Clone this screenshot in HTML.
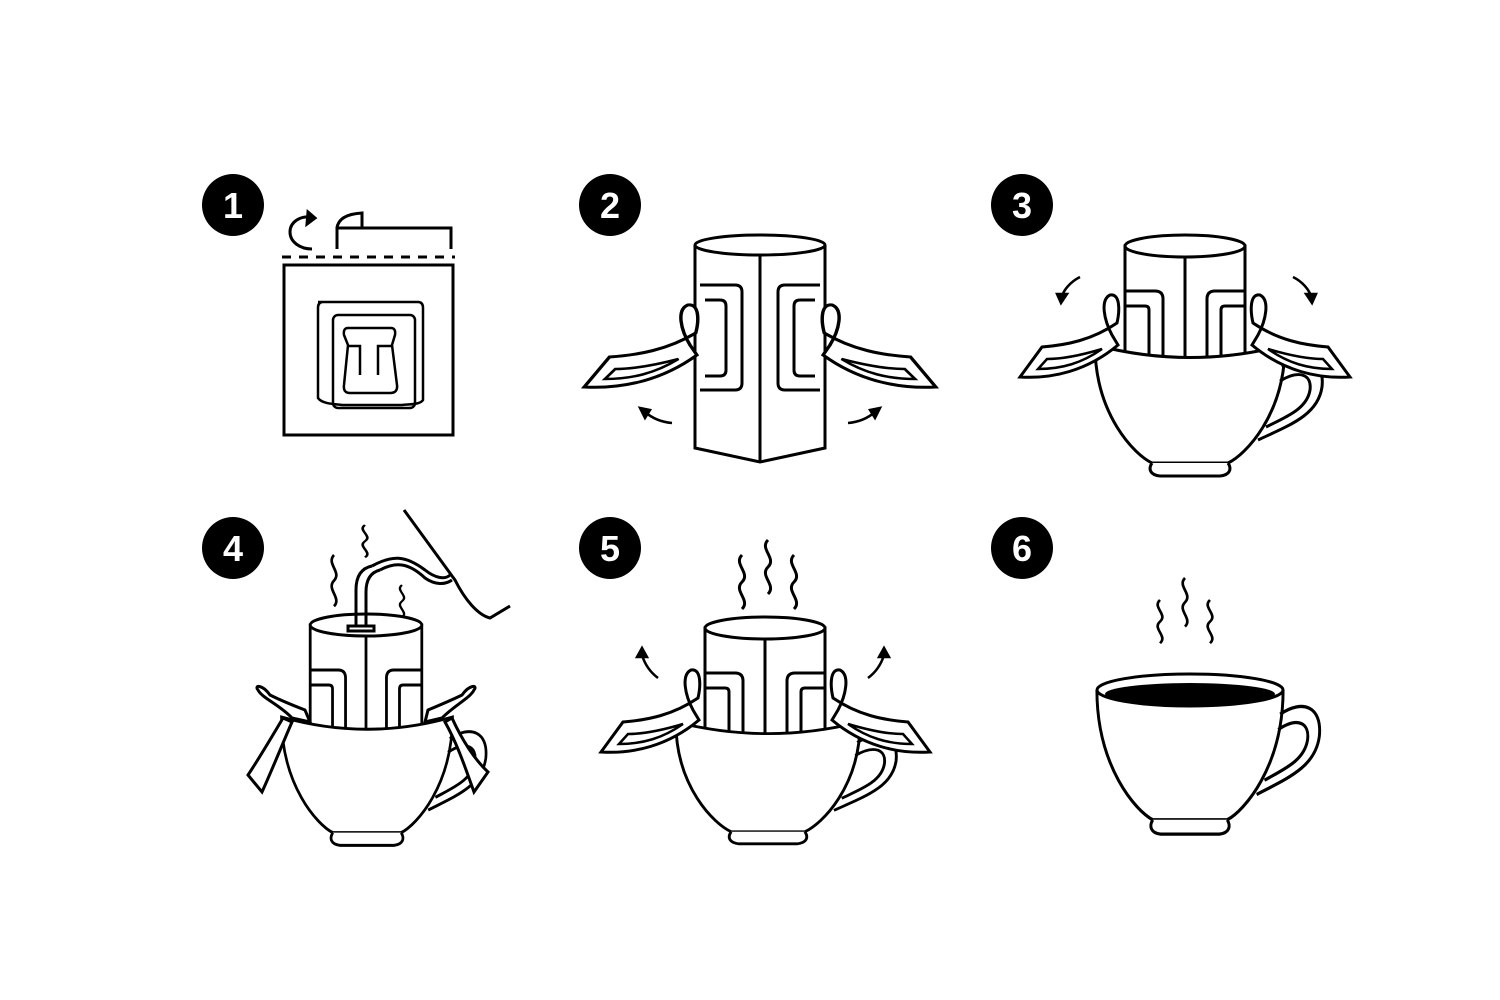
<!DOCTYPE html>
<html><head><style>html,body{margin:0;padding:0;background:#fff}svg{display:block}</style></head>
<body>
<svg width="1500" height="1000" viewBox="0 0 1500 1000" xmlns="http://www.w3.org/2000/svg">
<defs>
<g id="cup">
  <path d="M-95,0 Q0,25 95,0 C95,70 55,110 38,118 L-38,118 C-55,110 -95,70 -95,0 Z" fill="#fff" stroke="#000" stroke-width="3"/>
  <path d="M-38,118 C-42,124 -40,130 -30,131 L30,131 C40,130 42,124 38,118" fill="#fff" stroke="#000" stroke-width="3"/>
  <path d="M92,22 C115,8 135,15 132,42 C128,70 100,80 68,95" fill="none" stroke="#000" stroke-width="3"/>
  <path d="M90,36 C110,24 122,30 120,45 C117,64 96,72 76,82" fill="none" stroke="#000" stroke-width="3"/>
</g>
<g id="cup6">
  <path d="M-95,0 C-95,70 -55,110 -38,118 L38,118 C55,110 95,70 95,0" fill="#fff" stroke="#000" stroke-width="3"/>
  <path d="M-38,118 C-42,124 -40,130 -30,131 L30,131 C40,130 42,124 38,118" fill="#fff" stroke="#000" stroke-width="3"/>
  <path d="M92,22 C115,8 135,15 132,42 C128,70 100,80 68,95" fill="none" stroke="#000" stroke-width="3"/>
  <path d="M90,36 C110,24 122,30 120,45 C117,64 96,72 76,82" fill="none" stroke="#000" stroke-width="3"/>
</g>
<g id="bagbody">
  <rect x="-60" y="0" width="120" height="140" fill="#fff" stroke="#000" stroke-width="3"/>
  <ellipse cx="0" cy="0" rx="60" ry="11" fill="#fff" stroke="#000" stroke-width="3"/>
  <line x1="0" y1="11" x2="0" y2="140" stroke="#000" stroke-width="3"/>
  <path d="M-60,45 L-30,45 Q-22,45 -22,53 L-22,140" fill="none" stroke="#000" stroke-width="3"/>
  <path d="M-60,60 L-40,60 Q-36,60 -36,64 L-36,140" fill="none" stroke="#000" stroke-width="3"/>
  <path d="M60,45 L30,45 Q22,45 22,53 L22,140" fill="none" stroke="#000" stroke-width="3"/>
  <path d="M60,60 L40,60 Q36,60 36,64 L36,140" fill="none" stroke="#000" stroke-width="3"/>
</g>
<g id="earL">
  <path d="M0,0 C-8,-15 -12,-35 -2,-40 C8,-42 8,-25 5,-12 C-20,5 -45,10 -70,12 L-92,42 C-60,44 -25,36 6,10 Z" fill="#fff" stroke="#000" stroke-width="3"/>
  <path d="M-10,14 C-30,20 -50,24 -65,24 L-74,34 C-50,34 -30,28 -10,14 Z" fill="none" stroke="#000" stroke-width="2.5"/>
</g>
<path id="steam" d="M0,0 c-9,9 9,18 0,27 c-9,9 9,18 0,27" fill="none" stroke="#000" stroke-width="3"/>
</defs>

<g font-family="Liberation Sans, sans-serif" font-weight="bold" font-size="36" fill="#fff" text-anchor="middle">
<circle cx="233" cy="205" r="31" fill="#000"/><text x="233" y="218">1</text>
<circle cx="610" cy="205" r="31" fill="#000"/><text x="610" y="218">2</text>
<circle cx="1022" cy="205" r="31" fill="#000"/><text x="1022" y="218">3</text>
<circle cx="233" cy="548" r="31" fill="#000"/><text x="233" y="561">4</text>
<circle cx="610" cy="548" r="31" fill="#000"/><text x="610" y="561">5</text>
<circle cx="1022" cy="548" r="31" fill="#000"/><text x="1022" y="561">6</text>
</g>

<!-- panel 1 -->
<g fill="none" stroke="#000" stroke-width="3">
<rect x="284" y="265" width="169" height="170"/>
<line x1="282" y1="257" x2="455" y2="257" stroke-dasharray="9,8"/>
<path d="M337,249 L337,228 L451,228 L451,249"/>
<path d="M337,228 C338,220 345,214 362,213 L362,228"/>
<path d="M312,249 C300,249 290,242 290,232 C290,222 300,216 310,217"/>
<path d="M308,212 L315,218 L307,224 Z" fill="#000"/>
<path d="M318,302 L418,302 Q423,302 423,308 L423,400 C420,405 408,404 402,405 L342,405 C335,404 322,404 318,398 L318,308 Q318,302 323,302 Z" stroke-width="2.5"/>
<rect x="333" y="315" width="82" height="93" rx="5" stroke-width="2.5"/>
<path d="M348,328 L391,328 Q396,328 395,335 L392,345 L397,385 Q398,393 390,393 L350,393 Q343,393 344,385 L348,345 L344,335 Q343,328 348,328 Z" stroke-width="2.5"/>
<path d="M347,346 L360,346 L360,375 M392,346 L378,346 L378,375" stroke-width="2.5"/>
</g>

<!-- panel 2 -->
<g fill="none" stroke="#000" stroke-width="3">
<path d="M695,245 L695,448 L760,462 L825,448 L825,245" fill="#fff"/>
<ellipse cx="760" cy="245" rx="65" ry="10" fill="#fff"/>
<line x1="760" y1="255" x2="760" y2="462"/>
<path d="M700,285 L735,285 Q742,285 742,292 L742,383 Q742,390 735,390 L700,390"/>
<path d="M705,300 L720,300 Q726,300 726,306 L726,370 Q726,376 720,376 L705,376"/>
<path d="M820,285 L785,285 Q778,285 778,292 L778,383 Q778,390 785,390 L820,390"/>
<path d="M815,300 L800,300 Q794,300 794,306 L794,370 Q794,376 800,376 L815,376"/>
</g>
<use href="#earL" transform="translate(690,345) scale(1.15,1)"/>
<use href="#earL" transform="translate(830,345) scale(-1.15,1)"/>
<g fill="none" stroke="#000" stroke-width="2.5">
<path d="M672,423 C660,422 652,418 645,412"/><path d="M640,408 L650,410 L645,418 Z" fill="#000"/>
<path d="M848,423 C860,422 868,418 875,412"/><path d="M880,408 L870,410 L875,418 Z" fill="#000"/>
</g>

<!-- panel 3 -->
<use href="#bagbody" transform="translate(1185,246)"/>
<use href="#cup" transform="translate(1190,345)"/>
<use href="#earL" transform="translate(1112,335)"/>
<use href="#earL" transform="translate(1258,335) scale(-1,1)"/>
<g fill="none" stroke="#000" stroke-width="2.5">
<path d="M1080,277 C1070,282 1064,290 1062,296"/><path d="M1057,294 L1067,294 L1061,303 Z" fill="#000"/>
<path d="M1293,277 C1303,282 1309,290 1311,296"/><path d="M1316,294 L1306,294 L1312,303 Z" fill="#000"/>
</g>

<!-- panel 4 -->
<g transform="translate(366,625) scale(0.93,1)"><use href="#bagbody"/></g>
<g transform="translate(367,717) scale(0.9,0.98)"><use href="#cup"/></g>
<g fill="#fff" stroke="#000" stroke-width="3">
<path d="M292,718 C280,705 262,698 258,690 C254,685 262,684 270,695 C280,700 292,705 305,710 L310,722 Z"/>
<path d="M283,718 C270,740 258,760 248,775 L262,792 C272,770 282,745 292,722 Z"/>
<path d="M442,718 C455,705 470,698 474,690 C478,685 470,684 462,695 C452,700 440,705 428,710 L425,722 Z"/>
<path d="M452,718 C462,740 475,760 488,772 L474,792 C466,770 458,745 445,722 Z"/>
</g>
<g fill="none" stroke="#000" stroke-width="3">
<path d="M356,625 L356,590 C356,575 362,568 372,566 M366,625 L366,592 C366,578 372,572 380,570"/>
<rect x="348" y="626" width="26" height="5" fill="#fff"/>
<path d="M372,566 C392,555 405,555 425,570 C435,578 445,580 450,575 M380,570 C395,562 408,562 425,578 C435,585 445,585 452,580"/>
<path d="M404,510 L455,580 C465,600 478,615 490,618 L510,606"/>
</g>
<use href="#steam" transform="translate(334,555) scale(0.9,0.95)"/>
<use href="#steam" transform="translate(365,525) scale(0.9,0.6)"/>
<use href="#steam" transform="translate(402,585) scale(0.8,0.6)"/>

<!-- panel 5 -->
<use href="#bagbody" transform="translate(765,628)"/>
<g transform="translate(768,722) scale(0.97,0.93)"><use href="#cup"/></g>
<use href="#earL" transform="translate(693,710)"/>
<use href="#earL" transform="translate(838,710) scale(-1,1)"/>
<use href="#steam" transform="translate(742,555)"/>
<use href="#steam" transform="translate(768,540)"/>
<use href="#steam" transform="translate(794,555)"/>
<g fill="none" stroke="#000" stroke-width="2.5">
<path d="M658,678 C650,672 645,665 642,655"/><path d="M637,657 L642,648 L647,657 Z" fill="#000"/>
<path d="M868,678 C876,672 881,665 884,655"/><path d="M879,657 L884,648 L889,657 Z" fill="#000"/>
</g>

<!-- panel 6 -->
<g transform="translate(1190,690) scale(0.98,1.1)"><use href="#cup6"/></g>
<ellipse cx="1190" cy="690" rx="93" ry="16" fill="#fff" stroke="#000" stroke-width="3"/>
<ellipse cx="1190" cy="694" rx="85" ry="11" fill="#000"/>
<use href="#steam" transform="translate(1160,600) scale(0.9,0.8)"/>
<use href="#steam" transform="translate(1185,578) scale(0.9,0.9)"/>
<use href="#steam" transform="translate(1210,600) scale(0.9,0.8)"/>
</svg>
</body></html>
